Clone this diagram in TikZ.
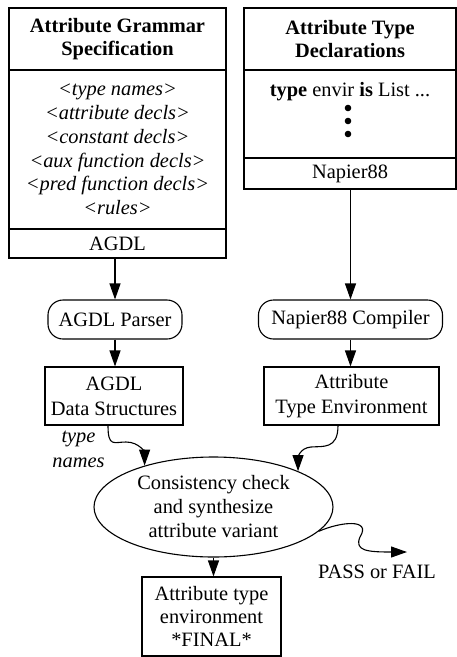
\documentclass[tikz,border=0pt]{standalone}
\usepackage{fontspec}
\setmainfont{Liberation Serif}
\usetikzlibrary{shapes.geometric,arrows.meta}
\newcommand\diagfont{\fontsize{20.4}{23.8}\selectfont}
\begin{document}
\begin{tikzpicture}[x=1pt,y=-1pt,
  every node/.style={font=\diagfont, inner sep=0pt, line width=1.1pt},
  box/.style={draw, rectangle, align=center},
  headbox/.style={box, font=\diagfont\bfseries},
  proc/.style={draw, rectangle, rounded corners=15pt, align=center},
  oval/.style={draw, ellipse, align=center},
  dot/.style={circle, fill, minimum size=6.6pt},
  flow/.style={line width=1.1pt, -{Triangle[length=16pt,width=11pt]}},
]
\useasboundingbox (0,0) rectangle (457,657);

% specification box (left column)
\node[headbox, minimum width=217pt, minimum height=62pt] (agshead) at (117.5,39)
  {Attribute Grammar\\Specification};
\node[box, minimum width=217pt, minimum height=159pt, font=\diagfont\itshape] (agsbody) at (117.5,149.5)
  {<type names>\\<attribute decls>\\<constant decls>\\<aux function decls>\\<pred function decls>\\<rules>};
\node[box, minimum width=217pt, minimum height=29pt] (agdl) at (117.5,243.5) {AGDL};

% type declarations box (right column)
\node[headbox, minimum width=212pt, minimum height=62pt] (athead) at (350,39)
  {Attribute Type\\Declarations};
\node[box, minimum width=212pt, minimum height=88pt] (atbody) at (350,114) {};
\node[anchor=base] (typedecl) at (350,96) {\textbf{type} envir \textbf{is} List ...};
\node[dot] (d1) at (348,108) {};
\node[dot] (d2) at (348,121) {};
\node[dot] (d3) at (348,134) {};
\node[box, minimum width=212pt, minimum height=31pt] (napier) at (350,173.5) {Napier88};

% processing stages
\node[proc, minimum width=134pt, minimum height=39pt] (parser) at (115,319.5) {AGDL Parser};
\node[proc, minimum width=184pt, minimum height=39pt] (comp) at (350.5,319.5) {Napier88 Compiler};
\node[box, minimum width=138pt, minimum height=58pt, font=\fontsize{20.4}{25}\selectfont] (ds) at (114,396)
  {AGDL\\Data Structures};
\node[box, minimum width=175pt, minimum height=58pt, font=\fontsize{20.4}{25}\selectfont] (ate) at (351.5,396)
  {Attribute\\Type Environment};
\node[oval, minimum width=239pt, minimum height=100pt, font=\fontsize{20.4}{24}\selectfont] (ell) at (213.5,507)
  {Consistency check\\and synthesize\\attribute variant};
\node[box, minimum width=139pt, minimum height=79pt, font=\fontsize{20.4}{23}\selectfont] (final) at (211.5,616.5)
  {Attribute type\\environment\\*FINAL*};

% labels
\node[align=center, font=\fontsize{20.4}{25}\selectfont\itshape] (tnames) at (78.5,449.5) {type\\names};
\node (pass) at (377,572) {PASS or FAIL};
\coordinate (passtip) at (407,552);

% connectors
\draw[flow] (agdl.south -| parser.north) -- (parser.north);
\draw[flow] (parser.south) -- (ds.north -| parser.south);
\draw[flow] (napier.south -| comp.north) -- (comp.north);
\draw[flow] (comp.south) -- (ate.north -| comp.south);
\draw[flow] (ell.south) -- (final.north -| ell.south);
\draw[flow] ([xshift=-6pt]ds.south) .. controls +(0,22) and +(-12,0) .. (126,442)
  .. controls +(14,0) and +(0,-12) .. (ell.149);
\draw[flow] ([xshift=-13.5pt]ate.south) .. controls +(0,24) and +(12,-1) .. (311,447)
  .. controls +(-12,1) and +(0,-12) .. (ell.23);
\draw[flow] (ell.-13) .. controls (340,522) and (372,518) .. (360,537)
  .. controls (354,551) and (368,552) .. (passtip);
\end{tikzpicture}
\end{document}
